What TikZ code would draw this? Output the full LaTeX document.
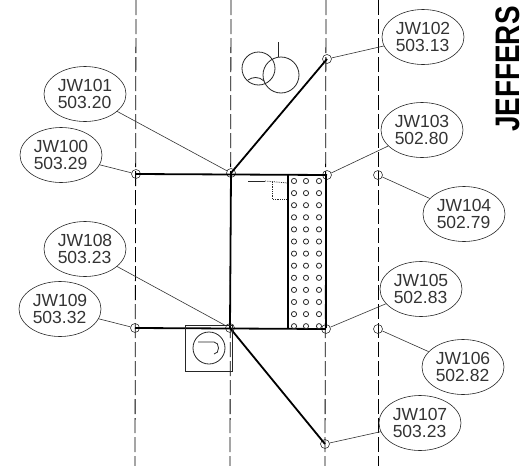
\documentclass[tikz,border=0pt]{standalone}
\usepackage{fontspec}
\setmainfont{Liberation Sans}
\usetikzlibrary{shapes.geometric}
\tikzset{
  tag/.style={draw=black!85,line width=.6pt,ellipse,inner sep=0pt,minimum width=82pt,minimum height=55pt,align=left,
    text=black!80,font=\fontsize{17.5}{17.5}\selectfont},
  shot/.style={draw=black!80,line width=.6pt,circle,inner sep=0pt,minimum size=9pt},
  lead/.style={draw=black!80,line width=.6pt},
  heavy/.style={draw=black,line width=1.8pt},
  grid/.style={draw=black,line width=.8pt,dash pattern=on 15pt off 4pt},
  thinline/.style={draw=black!85,line width=.8pt}
}
\begin{document}
\begin{tikzpicture}[x=1pt,y=-1pt]
  \useasboundingbox (0,0) rectangle (523,466);

  % road lines
  \draw[grid] (136,0) -- (135,466);
  \draw[grid] (231,0) -- (230,466);
  \draw[grid] (326,0) -- (325,466);
  \draw[grid] (378,0) -- (378,466);

  % shots
  \node[shot] (p100) at (136,174) {};
  \node[shot] (p101) at (231,173) {};
  \node[shot] (p102) at (327,59) {};
  \node[shot] (p103) at (327,175) {};
  \node[shot] (p104) at (378,175) {};
  \node[shot] (p105) at (326,329) {};
  \node[shot] (p106) at (378,329) {};
  \node[shot] (p107) at (325,444) {};
  \node[shot] (p108) at (230,328) {};
  \node[shot] (p109) at (135,328) {};

  % labels
  \node[tag] (jw100) at (61,155) {JW100\\503.29};
  \node[tag] (jw101) at (85,94) {JW101\\503.20};
  \node[tag] (jw102) at (423,37) {JW102\\503.13};
  \node[tag] (jw103) at (422,130) {JW103\\502.80};
  \node[tag] (jw104) at (464,214) {JW104\\502.79};
  \node[tag] (jw105) at (421,289) {JW105\\502.83};
  \node[tag] (jw106) at (463,367) {JW106\\502.82};
  \node[tag] (jw107) at (420,423) {JW107\\503.23};
  \node[tag] (jw108) at (85,249) {JW108\\503.23};
  \node[tag] (jw109) at (60,309) {JW109\\503.32};

  \foreach \n in {100,...,109}
    \draw[lead] (jw\n) -- (p\n);

  % building
  \draw[heavy] (p100.center) -- (p103.center);
  \draw[heavy] (p109.center) -- (p105.center);
  \draw[heavy] (p101.center) -- (p108.center);
  \draw[heavy] (p101.center) -- (p102.center);
  \draw[heavy] (p108.center) -- (p107.center);
  \draw[heavy] (288,174) -- (288,328);
  \draw[heavy] (326,174) -- (326,328);
  \foreach \r in {0,...,12}
    \foreach \c in {294,306,319}
      \draw[thinline] (\c,181+12.1*\r) circle (2.6pt);
  \draw[thinline] (248,181) -- (265,181);
  \draw[thinline,densely dotted] (265,181) -- (288,183);
  \draw[thinline,densely dotted] (272,182) -- (272,199) -- (287,199);

  % tree
  \draw[thinline] (281,75) circle (18pt);
  \draw[thinline] (258.5,68.5) circle (16.5pt);
  \draw[thinline] (278,42) -- (278,57);
  \draw[thinline] (248,80) .. controls (252,77) and (259,76) .. (264,81);

  % well
  \draw[thinline] (185,325) rectangle (232,371);
  \draw[thinline] (209,348) circle (16pt);
  \draw[thinline] (198,342) -- (214,342) .. controls (220,342) and (220,354) .. (214,354);

  \node[rotate=90,anchor=base west,inner sep=0pt,font=\fontsize{34}{34}\selectfont\bfseries] (road) at (519,132) {\scalebox{.82}[1]{JEFFERS}};
\end{tikzpicture}
\end{document}
